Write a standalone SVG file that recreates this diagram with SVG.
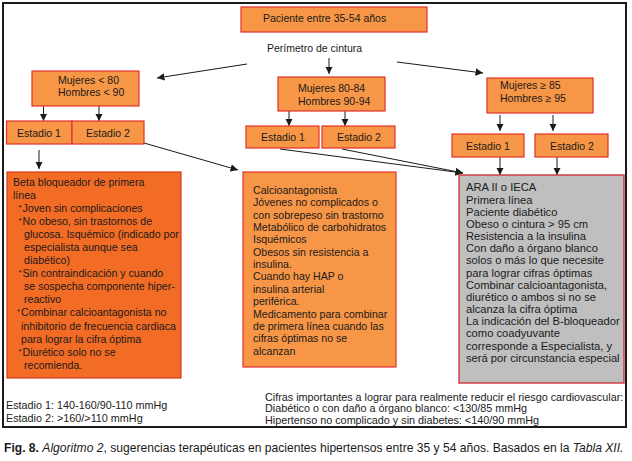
<svg xmlns="http://www.w3.org/2000/svg" width="632" height="461" viewBox="0 0 632 461">
<defs>
<marker id="ah" viewBox="0 0 10 10" refX="10" refY="5" markerWidth="7.5" markerHeight="7.5" markerUnits="userSpaceOnUse" orient="auto">
<path d="M0,0 L10,5 L0,10 z" fill="#1a1a1a"/>
</marker>
<style>
.t{font-family:"Liberation Sans",Arial,sans-serif;fill:#1a1a1a}
.b{fill:#F79646;stroke:#E2302A;stroke-width:1.2}
.s{font-size:10.5px}
.c{stroke:#1a1a1a;stroke-width:1;fill:none;marker-end:url(#ah)}
.m{text-anchor:middle}
</style>
</defs>
<rect x="0" y="0" width="632" height="461" fill="#fff"/>
<rect x="3" y="3" width="623" height="424" fill="none" stroke="#1a1a1a" stroke-width="2"/>

<g id="connectors">
<line class="c" x1="247" y1="64" x2="157" y2="78"/>
<line class="c" x1="329" y1="58" x2="329" y2="74"/>
<line class="c" x1="397" y1="62" x2="483" y2="73"/>
<line class="c" x1="43.5" y1="106" x2="43.5" y2="121"/>
<line class="c" x1="99" y1="106" x2="99" y2="121"/>
<line class="c" x1="289" y1="111" x2="289" y2="126"/>
<line class="c" x1="345" y1="111" x2="345" y2="126"/>
<line class="c" x1="500" y1="115" x2="500" y2="131"/>
<line class="c" x1="553" y1="115" x2="553" y2="131"/>
<line class="c" x1="39" y1="150" x2="39" y2="169"/>
<line class="c" x1="144" y1="143" x2="238" y2="170"/>
<line class="c" x1="280" y1="149" x2="463" y2="173"/>
<line class="c" x1="342" y1="149" x2="463" y2="173"/>
<line class="c" x1="500" y1="157" x2="500" y2="175"/>
<line class="c" x1="557" y1="157" x2="557" y2="175"/>
</g>

<g id="n-paciente">
<rect class="b" x="241" y="7" width="186" height="25"/>
<text class="t s" x="263" y="22">Paciente entre 35-54 años</text>
</g>
<g id="n-perimetro">
<text class="t s" x="267" y="52">Perímetro de cintura</text>
</g>

<g id="n-m80">
<rect class="b" x="32" y="71" width="107" height="35"/>
<text class="t s" x="58" y="84">Mujeres &lt; 80</text>
<text class="t s" x="58" y="96">Hombres &lt; 90</text>
</g>
<g id="n-m8084">
<rect class="b" x="278" y="77" width="107" height="34"/>
<text class="t s" x="298" y="92">Mujeres 80-84</text>
<text class="t s" x="298" y="105">Hombres 90-94</text>
</g>
<g id="n-m85">
<rect class="b" x="487" y="78" width="106" height="35"/>
<text class="t s" x="500" y="89">Mujeres ≥ 85</text>
<text class="t s" x="500" y="102">Hombres ≥ 95</text>
</g>

<g id="n-e1a">
<rect class="b" x="6.5" y="121" width="65.5" height="23"/>
<text class="t s m" x="39" y="137">Estadio 1</text>
</g>
<g id="n-e2a">
<rect class="b" x="72" y="121" width="72" height="23"/>
<text class="t s m" x="108" y="137">Estadio 2</text>
</g>
<g id="n-e1b">
<rect class="b" x="246" y="126" width="73" height="22"/>
<text class="t s m" x="283" y="140.5">Estadio 1</text>
</g>
<g id="n-e2b">
<rect class="b" x="322" y="126" width="73" height="22"/>
<text class="t s m" x="359" y="140.5">Estadio 2</text>
</g>
<g id="n-e1c">
<rect class="b" x="452" y="134" width="72" height="23"/>
<text class="t s m" x="488" y="150">Estadio 1</text>
</g>
<g id="n-e2c">
<rect class="b" x="535" y="134" width="73" height="23"/>
<text class="t s m" x="572" y="150">Estadio 2</text>
</g>

<g id="n-beta">
<rect x="7" y="172" width="174" height="206" fill="#F26C25" stroke="#D93A22" stroke-width="1.2"/>
<g class="t" font-size="10.6px">
<text x="13" y="186">Beta bloqueador de primera</text>
<text x="13" y="199">línea</text>
<text x="18.5" y="210" font-size="8px">*</text><text x="22.5" y="212">Joven sin complicaciones</text>
<text x="18.5" y="223" font-size="8px">*</text><text x="22.5" y="225">No obeso, sin trastornos de</text>
<text x="24" y="238">glucosa. Isquémico (indicado por</text>
<text x="24" y="251">especialista aunque sea</text>
<text x="24" y="264">diabético)</text>
<text x="18.5" y="275" font-size="8px">*</text><text x="22.5" y="277">Sin contraindicación y cuando</text>
<text x="24" y="290">se sospecha componente hiper-</text>
<text x="24" y="303">reactivo</text>
<text x="17" y="314" font-size="8px">*</text><text x="21" y="316">Combinar calcioantagonista no</text>
<text x="21" y="329.5">inhibitorio de frecuencia cardiaca</text>
<text x="21" y="342.5">para lograr la cifra óptima</text>
<text x="18.5" y="354" font-size="8px">*</text><text x="22.5" y="356">Diurético solo no se</text>
<text x="24" y="369">recomienda.</text>
</g>
</g>

<g id="n-calcio">
<rect x="243" y="172" width="153" height="195" fill="#F79646" stroke="#E2302A" stroke-width="1.2"/>
<g class="t" font-size="10.6px">
<text x="253" y="194">Calcioantagonista</text>
<text x="253" y="206.4">Jóvenes no complicados o</text>
<text x="253" y="218.7">con sobrepeso sin trastorno</text>
<text x="253" y="231">Metabólico de carbohidratos</text>
<text x="253" y="243.4">Isquémicos</text>
<text x="253" y="255.7">Obesos sin resistencia a</text>
<text x="253" y="268">insulina.</text>
<text x="253" y="280.4">Cuando hay HAP o</text>
<text x="253" y="292.8">insulina arterial</text>
<text x="253" y="305.1">periférica.</text>
<text x="253" y="317.5">Medicamento para combinar</text>
<text x="253" y="329.8">de primera línea cuando las</text>
<text x="253" y="342.2">cifras óptimas no se</text>
<text x="253" y="354.5">alcanzan</text>
</g>
</g>

<g id="n-ara">
<rect x="459" y="175" width="165" height="208" fill="#BFBFBF" stroke="#D0343A" stroke-width="1.4"/>
<g class="t" font-size="11.2px">
<text x="466" y="191.3">ARA II o IECA</text>
<text x="466" y="203.5">Primera línea</text>
<text x="466" y="215.7">Paciente diabético</text>
<text x="466" y="227.8">Obeso o cintura &gt; 95 cm</text>
<text x="466" y="240">Resistencia a la insulina</text>
<text x="466" y="252.2">Con daño a órgano blanco</text>
<text x="466" y="264.4">solos o más lo que necesite</text>
<text x="466" y="276.5">para lograr cifras óptimas</text>
<text x="466" y="288.7">Combinar calcioantagonista,</text>
<text x="466" y="300.9">diurético o ambos si no se</text>
<text x="466" y="313">alcanza la cifra óptima</text>
<text x="466" y="325.2">La indicación del B-bloqueador</text>
<text x="466" y="337.4">como coadyuvante</text>
<text x="466" y="349.6">corresponde a Especialista, y</text>
<text x="466" y="361.7">será por circunstancia especial</text>
</g>
</g>

<g id="n-footer" class="t" font-size="10.8px">
<text x="6" y="409">Estadio 1: 140-160/90-110 mmHg</text>
<text x="6" y="421.5">Estadio 2: &gt;160/&gt;110 mmHg</text>
<text x="265" y="400.5">Cifras importantes a lograr para realmente reducir el riesgo cardiovascular:</text>
<text x="265" y="412.3">Diabético o con daño a órgano blanco: &lt;130/85 mmHg</text>
<text x="265" y="424">Hipertenso no complicado y sin diabetes: &lt;140/90 mmHg</text>
</g>

<g id="caption">
<text class="t" x="4" y="451.5" font-size="12.1px"><tspan font-weight="bold">Fig. 8.</tspan> <tspan font-style="italic">Algoritmo 2</tspan>, sugerencias terapéuticas en pacientes hipertensos entre 35 y 54 años. Basados en la <tspan font-style="italic">Tabla XII.</tspan></text>
</g>
</svg>
